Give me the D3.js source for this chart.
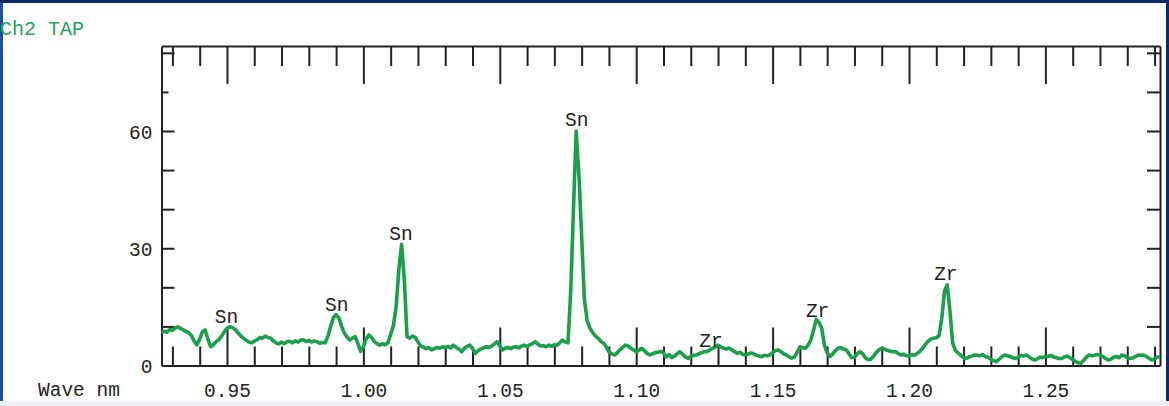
<!DOCTYPE html>
<html>
<head>
<meta charset="utf-8">
<script src="https://cdn.jsdelivr.net/npm/d3@7"></script>
<style>
  html, body { margin: 0; padding: 0; background: #0c2a66; }
  svg { display: block; }
  text { font-family: "Liberation Mono", "DejaVu Sans Mono", monospace; }
</style>
</head>
<body>
<svg id="chart" width="1169" height="406"></svg>
<script>
// Spectrometer channel and axis captions
const channelTitle = "Ch2 TAP";
const axisTitle = "Wave nm";

// Wavelength sampling grid (nm)
const waveStart = 0.926;
const waveStep = 0.001;

// Counts per sample, 0.926 .. 1.292 nm
const intensity = [
  8.3, 8.8, 8.5, 9.2, 9.0, 9.6, 9.9, 9.5, 9.1, 8.7, 8.4, 7.6, 6.2, 5.3, 6.8, 8.6, 9.1, 6.8, 4.8, 5.3,
  6.1, 6.6, 7.5, 8.6, 9.5, 9.9, 9.7, 9.2, 8.4, 7.6, 7.0, 6.5, 6.0, 5.8, 6.2, 6.6, 7.1, 7.0, 7.5, 7.2,
  7.0, 6.3, 5.8, 5.5, 6.0, 5.6, 6.1, 6.2, 5.8, 6.3, 6.0, 6.5, 6.6, 6.1, 6.4, 6.0, 6.3, 6.1, 5.7, 5.9,
  5.8, 7.5, 10.0, 12.3, 13.0, 12.2, 10.0, 8.3, 7.3, 6.5, 7.0, 7.4, 5.6, 3.6, 4.8, 6.8, 7.8, 7.2, 6.1, 5.6,
  5.2, 5.6, 5.3, 5.8, 8.0, 10.2, 15.0, 24.5, 31.0, 22.0, 7.4, 7.0, 7.5, 7.2, 6.0, 5.0, 4.7, 4.3, 4.6, 4.0,
  4.3, 4.6, 4.4, 4.8, 4.6, 4.9, 4.5, 5.2, 4.6, 4.2, 3.5, 4.4, 4.9, 5.2, 4.3, 3.1, 3.8, 4.2, 4.5, 4.8,
  4.6, 5.0, 5.5, 6.1, 5.0, 4.0, 4.4, 4.6, 4.3, 4.7, 4.8, 4.5, 5.0, 5.2, 4.8, 5.3, 5.6, 6.1, 5.4, 5.0,
  5.1, 4.8, 5.2, 4.9, 5.3, 5.2, 5.8, 6.5, 6.0, 5.8, 19.0, 40.0, 60.0, 49.0, 33.0, 17.0, 11.5, 9.6, 8.5, 7.6,
  7.0, 6.2, 5.7, 4.8, 3.5, 3.0, 2.7, 3.2, 4.0, 4.6, 5.2, 5.0, 4.4, 4.0, 3.5, 3.9, 4.4, 3.8, 3.1, 2.7,
  3.0, 3.3, 3.4, 3.6, 3.2, 2.2, 2.8, 2.0, 2.4, 3.0, 3.5, 2.9, 2.2, 1.8, 2.3, 2.6, 2.7, 3.0, 3.3, 3.5,
  3.6, 4.0, 4.4, 4.7, 5.2, 4.8, 4.4, 4.2, 4.5, 4.0, 3.6, 3.1, 3.4, 2.9, 2.7, 2.9, 3.2, 3.0, 2.6, 2.4,
  2.3, 2.6, 2.5, 2.7, 3.3, 3.8, 4.0, 3.5, 3.0, 2.7, 2.2, 1.9, 2.2, 3.4, 4.8, 4.6, 4.4, 5.2, 6.5, 9.0,
  11.8, 11.0, 9.6, 5.2, 3.2, 2.3, 2.9, 3.8, 4.4, 4.6, 4.2, 4.0, 3.0, 2.0, 2.1, 3.0, 3.5, 3.0, 2.0, 1.5,
  1.6, 2.4, 3.3, 4.0, 4.4, 4.2, 3.9, 3.7, 3.5, 3.6, 3.1, 2.7, 2.9, 2.5, 2.4, 2.8, 2.6, 3.1, 3.6, 4.4,
  5.4, 6.2, 6.8, 7.0, 7.1, 7.6, 12.0, 19.0, 20.6, 14.0, 5.8, 3.8, 3.2, 2.6, 2.0, 1.8, 2.2, 2.4, 2.7, 2.6,
  2.5, 2.8, 2.3, 2.1, 1.6, 1.2, 1.0, 1.6, 2.2, 2.7, 2.5, 2.3, 2.0, 1.8, 2.1, 2.6, 2.4, 2.7, 2.2, 1.7,
  1.4, 1.7, 2.1, 2.0, 2.3, 2.3, 2.6, 2.2, 2.0, 1.8, 1.8, 2.2, 2.4, 2.0, 1.5, 1.0, 0.7, 0.6, 1.3, 2.1,
  2.7, 2.5, 2.6, 2.8, 2.7, 2.3, 1.8, 1.4, 1.6, 2.1, 2.3, 2.0, 2.7, 2.5, 2.0, 1.8, 1.9, 2.3, 2.7, 2.6,
  2.7, 2.3, 1.8, 1.4, 1.7, 2.1, 2.3
];

// Line identifications: element, wavelength (nm) and the count level the label sits on
const peakElements = ["Sn", "Sn", "Sn", "Sn", "Zr", "Zr", "Zr"];
const peakWaves    = [0.9498, 0.9902, 1.0138, 1.0782, 1.1274, 1.1665, 1.2135];
const peakLevels   = [10.9, 14.0, 32.1, 61.3, 4.7, 12.3, 21.9];

// Axis ticks
const waveTicks = d3.range(93, 130).map(d => d / 100);
const countTicks = [10, 20, 30, 40, 50, 60, 70, 80];
const countLabels = [0, 30, 60];

const svg = d3.select("#chart");
const W = 1169, H = 406;

// Page frame: white panel inside a navy border
svg.append("rect").attr("x", 0).attr("y", 0).attr("width", W).attr("height", H).attr("fill", "#0c2a66");
svg.append("rect").attr("x", 3).attr("y", 3).attr("width", 1163).attr("height", 398).attr("fill", "#ffffff");
svg.append("rect").attr("x", 0).attr("y", 401).attr("width", W).attr("height", 5).attr("fill", "#eef2f6");
svg.append("rect").attr("x", 0).attr("y", 3).attr("width", 3).attr("height", 398).attr("fill", "#1f4fa3");

const x = d3.scaleLinear().domain([0.926, 1.292]).range([161.5, 1160]);
const y = d3.scaleLinear().domain([0, 81.75]).range([365.5, 46]);

const axisColor = "#222222";
const labelSize = 19.5;
const isMajor = d => Math.round(d * 100) % 5 === 0;

// Bottom axis: ticks point up into the plot
const gBottom = svg.append("g").attr("transform", `translate(0,${y(0)})`)
  .call(d3.axisBottom(x).tickValues(waveTicks).tickSizeOuter(0).tickSizeInner(0)
    .tickFormat(d => isMajor(d) ? d3.format(".2f")(d) : ""));
gBottom.selectAll(".tick line").attr("y2", d => isMajor(d) ? -38 : -19);
gBottom.selectAll(".tick text").attr("y", 31).attr("dy", 0)
  .attr("font-size", labelSize).attr("fill", "#222");

// Top axis: ticks point down into the plot
const gTop = svg.append("g").attr("transform", `translate(0,${y.range()[1]})`)
  .call(d3.axisTop(x).tickValues(waveTicks).tickSizeOuter(0).tickSizeInner(0).tickFormat(""));
gTop.selectAll(".tick line").attr("y2", d => isMajor(d) ? 38 : 20);

// Left axis: ticks point right
const gLeft = svg.append("g").attr("transform", `translate(${x.range()[0]},0)`)
  .call(d3.axisLeft(y).tickValues([0].concat(countTicks)).tickSizeOuter(0).tickSizeInner(0)
    .tickPadding(9)
    .tickFormat(d => countLabels.includes(d) ? d : ""));
gLeft.selectAll(".tick line").attr("x2", d => d === 0 ? 0 : (d === 70 ? 7 : 13));
gLeft.selectAll(".tick text").attr("font-size", labelSize).attr("fill", "#222").attr("dy", "0.36em");

// Right axis: ticks point left
const gRight = svg.append("g").attr("transform", `translate(${x.range()[1]},0)`)
  .call(d3.axisRight(y).tickValues(countTicks).tickSizeOuter(0).tickSizeInner(0).tickFormat(""));
gRight.selectAll(".tick line").attr("x2", -13);

[gBottom, gTop, gLeft, gRight].forEach(g => {
  g.select(".domain").attr("stroke", axisColor).attr("stroke-width", 2);
  g.selectAll(".tick line").attr("stroke", axisColor).attr("stroke-width", 2);
  g.attr("font-family", null);
});

// Spectrum trace
const samples = intensity.map((v, i) => ({ wave: waveStart + i * waveStep, count: v }));
const line = d3.line().x(d => x(d.wave)).y(d => y(d.count));
svg.append("path").datum(samples)
  .attr("d", line)
  .attr("fill", "none")
  .attr("stroke", "#1a9f4b")
  .attr("stroke-width", 3.6)
  .attr("stroke-linejoin", "round");

// Element labels above the identified lines
svg.append("g").selectAll("text").data(peakElements).join("text")
  .attr("x", (d, i) => x(peakWaves[i]))
  .attr("y", (d, i) => y(peakLevels[i]))
  .attr("text-anchor", "middle")
  .attr("font-size", labelSize)
  .attr("fill", "#222")
  .text(d => d);

// Captions
svg.append("text").attr("x", 0).attr("y", 35).attr("font-size", 20)
  .attr("fill", "#25a35a").text(channelTitle);
svg.append("text").attr("x", 38).attr("y", 396).attr("font-size", labelSize)
  .attr("fill", "#222").text(axisTitle);
</script>
</body>
</html>
